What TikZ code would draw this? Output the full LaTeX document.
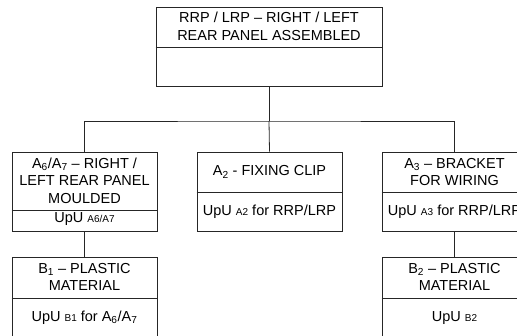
\documentclass[tikz,border=0pt]{standalone}
\usepackage{fontspec}
\setmainfont{Liberation Sans}
\newcommand{\sm}[1]{{\fontsize{10}{12}\selectfont #1}}
\newcommand{\sub}[1]{\textsubscript{#1}}
\begin{document}
\begin{tikzpicture}[x=1pt,y=-1pt,
  box/.style={draw=black!85,line width=0.8pt,rectangle,inner sep=0pt},
  txt/.style={align=center,inner sep=0pt,font=\fontsize{14.5}{17.5}\selectfont},
  conn/.style={draw=black!85,line width=0.8pt}]
\useasboundingbox (0,0) rectangle (517,335);
\clip (0,0) rectangle (517,335);
% boxes
\node[box,minimum width=226pt,minimum height=79pt] (top) at (269,46.5) {};
\node[box,minimum width=145pt,minimum height=79pt] (a67) at (84.5,191.5) {};
\node[box,minimum width=145pt,minimum height=79pt] (a2) at (269.5,191.5) {};
\node[box,minimum width=145pt,minimum height=79pt] (a3) at (454.5,191.5) {};
\node[box,minimum width=145pt,minimum height=80pt] (b1) at (84.5,297) {};
\node[box,minimum width=145pt,minimum height=80pt] (b2) at (454.5,297) {};
% dividers
\draw[conn] (top.west |- 0,47) -- (top.east |- 0,47);
\draw[conn] (a67.west |- 0,210) -- (a67.east |- 0,210);
\draw[conn] (a2.west |- 0,192) -- (a2.east |- 0,192);
\draw[conn] (a3.west |- 0,192) -- (a3.east |- 0,192);
\draw[conn] (b1.west |- 0,298) -- (b1.east |- 0,298);
\draw[conn] (b2.west |- 0,298) -- (b2.east |- 0,298);
% texts
\node[txt] (ttop) at (269,26.5) {RRP / LRP -- RIGHT / LEFT\\REAR PANEL ASSEMBLED};
\node[txt] (ta67) at (84.5,180.5) {A\sub{6}/A\sub{7} -- RIGHT /\\LEFT REAR PANEL\\MOULDED};
\node[txt] (ua67) at (84.5,219) {UpU \sm{A6/A7}};
\node[txt] (ta2) at (269.5,172) {A\sub{2} - FIXING CLIP};
\node[txt] (ua2) at (269.5,211.5) {UpU \sm{A2} for RRP/LRP};
\node[txt] (ta3) at (454.5,172) {A\sub{3} -- BRACKET\\FOR WIRING};
\node[txt] (ua3) at (454.5,211.5) {UpU \sm{A3} for RRP/LRP};
\node[txt] (tb1) at (84.5,277) {B\sub{1} -- PLASTIC\\MATERIAL};
\node[txt] (ub1) at (84.5,318) {UpU \sm{B1} for A\sub{6}/A\sub{7}};
\node[txt] (tb2) at (454.5,277) {B\sub{2} -- PLASTIC\\MATERIAL};
\node[txt] (ub2) at (454.5,318) {UpU \sm{B2}};
% connectors
\coordinate (bus) at (269,121);
\draw[conn] (top.south) -- (bus);
\draw[conn] (a67.north) |- (bus) -| (a3.north);
\draw[conn] (bus) -- (a2.north);
\draw[conn] (a67.south) -- (b1.north);
\draw[conn] (a3.south) -- (b2.north);
\end{tikzpicture}
\end{document}
